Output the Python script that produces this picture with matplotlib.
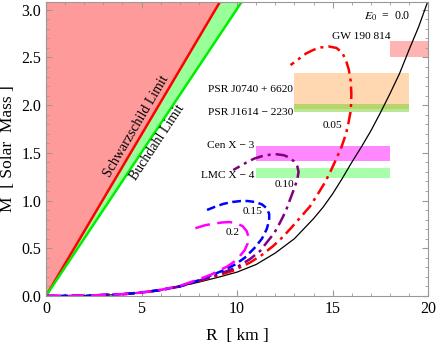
import matplotlib.pyplot as plt
import numpy as np
from matplotlib.ticker import MultipleLocator

plt.rcParams['font.family'] = ['Liberation Serif', 'DejaVu Serif']
plt.rcParams['mathtext.fontset'] = 'stix'

# mass-radius curves (R in km, M in solar masses)
r_e00 = [0, 1, 2, 3, 4, 5, 6, 7, 8, 9, 10, 11, 12, 13, 14, 14.5, 15, 15.5, 16, 16.5, 17, 17.5, 18, 18.5,
         19, 19.5, 19.95]
m_e00 = [0, 0.0003, 0.002, 0.007, 0.018, 0.035, 0.06, 0.10, 0.145, 0.195, 0.25, 0.33, 0.45, 0.60, 0.81,
         0.93, 1.07, 1.23, 1.40, 1.56, 1.73, 1.92, 2.12, 2.33, 2.58, 2.82, 3.07]

r_e05 = [0, 2, 4, 5, 6, 7, 8, 9, 9.8, 10.68, 11.3, 11.9, 12.4, 12.77, 13.3, 13.82, 14.2, 14.6, 14.9, 15.2,
         15.48, 15.7, 15.83, 15.93, 15.97, 15.98, 15.95, 15.85, 15.7, 15.5, 15.2, 14.8, 14.4, 14.0, 13.6,
         13.2, 12.8]
m_e05 = [0, 0.002, 0.018, 0.036, 0.062, 0.10, 0.155, 0.215, 0.265, 0.35, 0.43, 0.525, 0.62, 0.70, 0.82,
         0.94, 1.06, 1.19, 1.31, 1.44, 1.57, 1.70, 1.815, 1.92, 2.02, 2.12, 2.25, 2.37, 2.47, 2.55, 2.60,
         2.615, 2.605, 2.58, 2.54, 2.48, 2.42]

r_e10 = [0, 2, 4, 5, 6, 7, 8, 9, 9.98, 10.68, 11.2, 11.55, 11.95, 12.25, 12.55, 12.77, 12.98, 13.15, 13.22,
         13.15, 12.98, 12.75, 12.45, 12.08, 11.7, 11.3, 10.9, 10.5, 10.15, 9.8]
m_e10 = [0, 0.002, 0.018, 0.036, 0.062, 0.10, 0.16, 0.225, 0.30, 0.387, 0.47, 0.56, 0.66, 0.77, 0.89,
         1.01, 1.12, 1.22, 1.30, 1.36, 1.41, 1.45, 1.475, 1.485, 1.48, 1.465, 1.44, 1.40, 1.36, 1.32]

r_e15 = [0, 2, 4, 5, 6, 7, 8, 8.7, 9.3, 9.9, 10.4, 10.9, 11.3, 11.55, 11.68, 11.68, 11.55, 11.3, 10.94,
         10.55, 10.2, 9.75, 9.28, 8.85, 8.41]
m_e15 = [0, 0.002, 0.018, 0.036, 0.062, 0.10, 0.165, 0.22, 0.27, 0.33, 0.40, 0.50, 0.60, 0.70, 0.79,
         0.86, 0.92, 0.96, 0.985, 0.995, 0.995, 0.985, 0.965, 0.935, 0.90]

r_e20 = [0, 2, 4, 5, 6, 7, 8.0, 8.6, 9.1, 9.5, 9.85, 10.15, 10.4, 10.55, 10.6, 10.5, 10.3, 10.0, 9.6,
         9.2, 8.7, 8.3, 7.9, 7.45]
m_e20 = [0, 0.002, 0.018, 0.036, 0.064, 0.105, 0.175, 0.22, 0.27, 0.31, 0.36, 0.42, 0.48, 0.55, 0.62,
         0.68, 0.73, 0.76, 0.775, 0.77, 0.755, 0.74, 0.715, 0.685]

# observational bands: name, R range, M range
obs_names = ['GW 190 814', 'PSR J0740 + 6620', 'PSR J1614 \u2212 2230', 'Cen X \u2212 3', 'LMC X \u2212 4']
obs_r = [(18.0, 20.0), (13.0, 19.0), (13.0, 19.0), (11.0, 18.0), (11.0, 18.0)]
obs_m = [(2.50, 2.67), (1.96, 2.34), (1.93, 2.01), (1.41, 1.57), (1.24, 1.34)]
obs_colors = ['#ff6969', '#ffb367', '#73d329', '#ff11ff', '#55ff55']

fig = plt.figure(figsize=(4.36, 3.54), dpi=100)
ax = fig.add_axes([0.1055, 0.164, 0.8765, 0.830])

# Schwarzschild (R = 2GM/c^2) and Buchdahl (R = 9GM/4c^2) limits
rr = np.linspace(0, 20, 200)
m_schw = rr / 2.953
m_buch = rr / 3.322
ax.fill_between(rr, m_schw, 4, color='#ff9a9a', lw=0)
ax.fill_between(rr, m_buch, m_schw, color='#99ff99', lw=0)
ax.plot(rr, m_schw, color='#ff0000', lw=1.8)
ax.plot(rr, m_buch, color='#00ee00', lw=1.8)

ax.plot(r_e00, m_e00, color='black', lw=0.9)
ax.plot(r_e05, m_e05, color='red', lw=1.8, dashes=(5, 2, 1.2, 2))
ax.plot(r_e10, m_e10, color='#800080', lw=1.8, dashes=(5, 2, 1.2, 2))
ax.plot(r_e15, m_e15, color='blue', lw=1.8, dashes=(3.5, 1.8))
ax.plot(r_e20, m_e20, color='#ff00ff', lw=1.8, dashes=(6, 3))

for (r0, r1), (m0, m1), c in zip(obs_r, obs_m, obs_colors):
    ax.fill_between([r0, r1], m0, m1, color=c, alpha=0.5, lw=0)

fs = 8.2
ax.text(19.05, 2.93, '$E_0$  =  0.0', fontsize=8.5, ha='right', va='center')
ax.text(18.05, 2.72, obs_names[0], fontsize=fs, ha='right', va='center')
ax.text(12.9, 2.16, obs_names[1], fontsize=fs, ha='right', va='center')
ax.text(12.95, 1.92, obs_names[2], fontsize=fs, ha='right', va='center')
ax.text(10.9, 1.58, obs_names[3], fontsize=fs, ha='right', va='center')
ax.text(10.9, 1.26, obs_names[4], fontsize=fs, ha='right', va='center')
ax.text(15.0, 1.79, '0.05', fontsize=fs, ha='center', va='center')
ax.text(12.5, 1.17, '0.10', fontsize=fs, ha='center', va='center')
ax.text(10.8, 0.88, '0.15', fontsize=fs, ha='center', va='center')
ax.text(9.76, 0.67, '0.2', fontsize=fs, ha='center', va='center')
ax.text(4.72, 1.78, 'Schwarzschild Limit', fontsize=10, rotation=59.5, ha='center', va='center')
ax.text(5.85, 1.61, 'Buchdahl Limit', fontsize=10, rotation=56.5, ha='center', va='center')

ax.set_xlim(0, 20)
ax.set_ylim(0, 3.08)
ax.xaxis.set_major_locator(MultipleLocator(5))
ax.xaxis.set_minor_locator(MultipleLocator(1))
ax.yaxis.set_major_locator(MultipleLocator(0.5))
ax.yaxis.set_minor_locator(MultipleLocator(0.1))
ax.yaxis.set_major_formatter(plt.FormatStrFormatter('%.1f'))
ax.tick_params(which='both', direction='in', top=True, right=True, color='#999999', labelsize=11.5)
ax.tick_params(which='major', length=4)
ax.tick_params(which='minor', length=2.5)
for s in ax.spines.values():
    s.set_color('#999999')

ax.set_xlabel('R  [ km ]', fontsize=12.5, labelpad=8)
ax.set_ylabel('M  [ Solar  Mass ]', fontsize=12.5, labelpad=4)

fig.savefig('out.png', dpi=100)
